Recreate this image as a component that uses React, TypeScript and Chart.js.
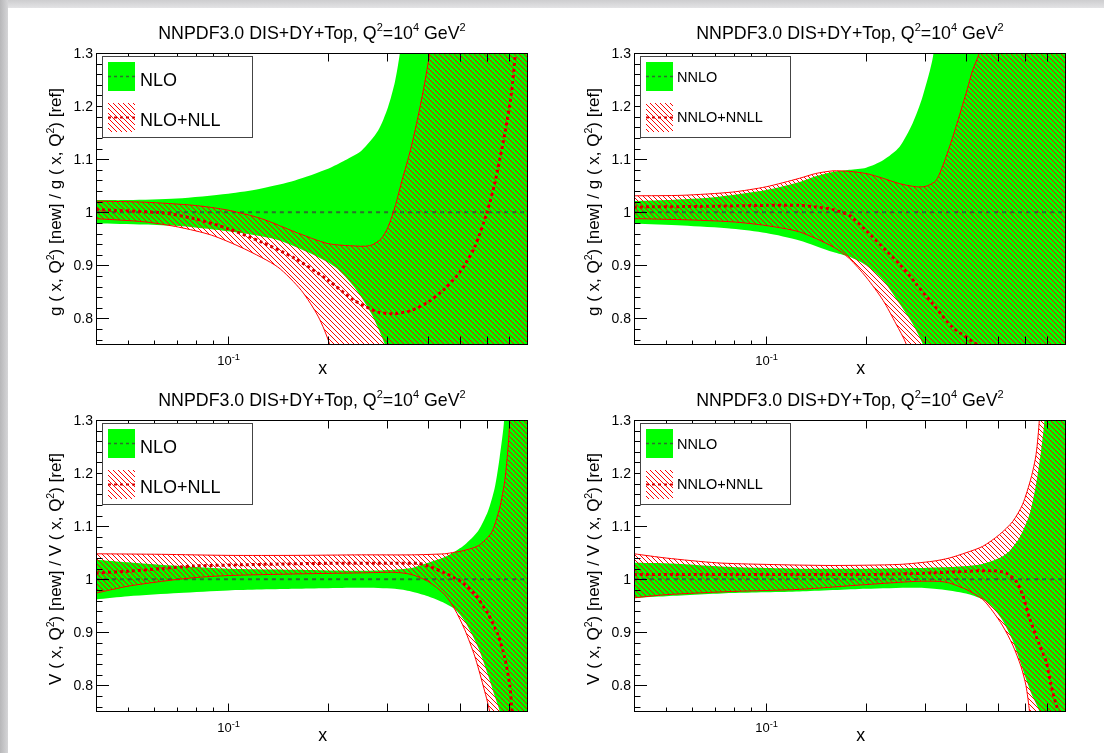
import React, { useEffect, useRef } from 'react';
import { Chart, registerables } from 'chart.js';

Chart.register(...registerables);

type Pt = [number, number];
type Part = { t: string; sup?: boolean };

// ---------------- axes ----------------
const X_MIN = 0.04;
const X_MAX = 0.8;
const Y_MIN = 0.75;
const Y_MAX = 1.3;
const Y_MAJOR = [0.8, 0.9, 1.0, 1.1, 1.2, 1.3];
const Y_LABELS = ['0.8', '0.9', '1', '1.1', '1.2', '1.3'];
const X_TICKS = [0.05, 0.06, 0.07, 0.08, 0.09, 0.1, 0.2, 0.3, 0.4, 0.5, 0.6, 0.7];
const X_LABEL_VALUE = 0.1;
const REF_LINE: Pt[] = [[0.04, 1.0], [0.8, 1.0]];

const TITLE: Part[] = [
  { t: 'NNPDF3.0 DIS+DY+Top, Q' }, { t: '2', sup: true }, { t: '=10' }, { t: '4', sup: true },
  { t: ' GeV' }, { t: '2', sup: true },
];
const G_TITLE: Part[] = [
  { t: 'g ( x, Q' }, { t: '2', sup: true }, { t: ') [new] / g ( x, Q' }, { t: '2', sup: true }, { t: ') [ref]' },
];
const V_TITLE: Part[] = [
  { t: 'V ( x, Q' }, { t: '2', sup: true }, { t: ') [new] / V ( x, Q' }, { t: '2', sup: true }, { t: ') [ref]' },
];

// ---------------- panel 1 : g, NLO vs NLO+NLL ----------------
const gNloUpper: Pt[] = [[0.04, 1.023], [0.05, 1.023], [0.07, 1.026], [0.1, 1.035], [0.126, 1.045], [0.159, 1.06], [0.2, 1.082], [0.225, 1.098], [0.252, 1.116], [0.283, 1.154], [0.303, 1.198], [0.318, 1.246], [0.329, 1.3], [0.345, 1.42], [0.9, 2.5]];
const gNloLower: Pt[] = [[0.04, 0.979], [0.056, 0.977], [0.071, 0.974], [0.089, 0.968], [0.112, 0.96], [0.141, 0.948], [0.178, 0.922], [0.21, 0.897], [0.24, 0.859], [0.27, 0.809], [0.296, 0.752], [0.31, 0.7], [0.9, 0.3]];
const gNllUpper: Pt[] = [[0.04, 1.021], [0.056, 1.019], [0.079, 1.013], [0.1, 1.004], [0.126, 0.988], [0.159, 0.963], [0.2, 0.941], [0.252, 0.936], [0.27, 0.938], [0.289, 0.95], [0.303, 0.972], [0.318, 1.01], [0.332, 1.054], [0.356, 1.123], [0.382, 1.211], [0.405, 1.302], [0.42, 1.4], [0.9, 2.5]];
const gNllLower: Pt[] = [[0.04, 0.988], [0.056, 0.982], [0.071, 0.972], [0.089, 0.957], [0.112, 0.931], [0.141, 0.897], [0.166, 0.853], [0.187, 0.803], [0.202, 0.752], [0.21, 0.7], [0.9, 0.3]];
const gNllCentral: Pt[] = [[0.04, 1.005], [0.063, 0.999], [0.079, 0.988], [0.1, 0.969], [0.126, 0.944], [0.159, 0.913], [0.2, 0.872], [0.24, 0.834], [0.283, 0.812], [0.318, 0.809], [0.356, 0.815], [0.4, 0.831], [0.449, 0.856], [0.504, 0.891], [0.553, 0.935], [0.6, 0.997], [0.635, 1.054], [0.681, 1.148], [0.713, 1.224], [0.733, 1.3], [0.75, 1.37]];

// ---------------- panel 2 : g, NNLO vs NNLO+NNLL ----------------
const gNnloUpper: Pt[] = [[0.04, 1.021], [0.05, 1.023], [0.071, 1.029], [0.1, 1.042], [0.126, 1.057], [0.141, 1.068], [0.159, 1.076], [0.178, 1.08], [0.2, 1.084], [0.225, 1.098], [0.252, 1.123], [0.276, 1.167], [0.296, 1.218], [0.318, 1.293], [0.335, 1.42], [0.9, 2.5]];
const gNnloLower: Pt[] = [[0.04, 0.979], [0.056, 0.975], [0.079, 0.969], [0.1, 0.961], [0.126, 0.947], [0.159, 0.925], [0.178, 0.916], [0.2, 0.9], [0.225, 0.872], [0.252, 0.828], [0.276, 0.79], [0.296, 0.752], [0.31, 0.7], [0.9, 0.3]];
const gNnllUpper: Pt[] = [[0.04, 1.031], [0.056, 1.032], [0.079, 1.038], [0.1, 1.048], [0.126, 1.064], [0.141, 1.073], [0.159, 1.078], [0.178, 1.077], [0.2, 1.073], [0.225, 1.064], [0.252, 1.054], [0.283, 1.048], [0.303, 1.049], [0.325, 1.06], [0.348, 1.104], [0.373, 1.161], [0.4, 1.224], [0.419, 1.268], [0.439, 1.302], [0.46, 1.4], [0.9, 2.5]];
const gNnllLower: Pt[] = [[0.04, 0.988], [0.056, 0.986], [0.079, 0.982], [0.1, 0.975], [0.126, 0.963], [0.159, 0.935], [0.178, 0.913], [0.2, 0.878], [0.225, 0.834], [0.246, 0.79], [0.264, 0.752], [0.275, 0.7], [0.9, 0.3]];
const gNnllCentral: Pt[] = [[0.04, 1.01], [0.063, 1.011], [0.1, 1.013], [0.126, 1.013], [0.141, 1.01], [0.159, 1.005], [0.178, 0.994], [0.2, 0.966], [0.23, 0.928], [0.252, 0.903], [0.283, 0.865], [0.318, 0.827], [0.365, 0.783], [0.429, 0.752], [0.45, 0.74]];

// ---------------- panel 3 : V, NLO vs NLO+NLL ----------------
const vNloUpper: Pt[] = [[0.04, 1.037], [0.05, 1.032], [0.071, 1.025], [0.1, 1.02], [0.159, 1.018], [0.252, 1.016], [0.318, 1.018], [0.356, 1.021], [0.4, 1.031], [0.449, 1.042], [0.481, 1.052], [0.516, 1.065], [0.566, 1.091], [0.606, 1.128], [0.635, 1.172], [0.657, 1.229], [0.678, 1.301], [0.69, 1.45], [0.9, 3.0]];
const vNloLower: Pt[] = [[0.04, 0.962], [0.05, 0.968], [0.071, 0.974], [0.1, 0.979], [0.159, 0.982], [0.252, 0.984], [0.318, 0.982], [0.356, 0.977], [0.4, 0.968], [0.449, 0.955], [0.481, 0.944], [0.516, 0.921], [0.566, 0.872], [0.606, 0.82], [0.635, 0.78], [0.657, 0.751], [0.67, 0.7], [0.9, 0.3]];
const vNllUpper: Pt[] = [[0.04, 1.048], [0.063, 1.047], [0.1, 1.045], [0.159, 1.045], [0.252, 1.046], [0.356, 1.046], [0.449, 1.048], [0.481, 1.051], [0.504, 1.053], [0.566, 1.063], [0.621, 1.088], [0.657, 1.134], [0.681, 1.186], [0.697, 1.25], [0.705, 1.301], [0.715, 1.45], [0.9, 3.0]];
const vNllLower: Pt[] = [[0.04, 0.974], [0.05, 0.987], [0.063, 0.996], [0.079, 1.003], [0.1, 1.007], [0.159, 1.01], [0.252, 1.012], [0.318, 1.013], [0.356, 1.009], [0.4, 0.996], [0.449, 0.971], [0.481, 0.944], [0.516, 0.905], [0.553, 0.855], [0.586, 0.8], [0.613, 0.751], [0.625, 0.7], [0.9, 0.3]];
const vNllCentral: Pt[] = [[0.04, 1.012], [0.05, 1.015], [0.063, 1.02], [0.079, 1.025], [0.126, 1.028], [0.2, 1.03], [0.318, 1.03], [0.373, 1.03], [0.4, 1.025], [0.449, 1.012], [0.504, 0.995], [0.553, 0.972], [0.606, 0.935], [0.65, 0.895], [0.681, 0.852], [0.705, 0.8], [0.716, 0.752], [0.72, 0.72]];

// ---------------- panel 4 : V, NNLO vs NNLO+NNLL ----------------
const vNnloUpper: Pt[] = [[0.04, 1.031], [0.05, 1.03], [0.079, 1.023], [0.126, 1.02], [0.2, 1.02], [0.283, 1.021], [0.356, 1.023], [0.4, 1.025], [0.449, 1.029], [0.504, 1.04], [0.54, 1.053], [0.579, 1.078], [0.621, 1.122], [0.65, 1.179], [0.673, 1.242], [0.689, 1.301], [0.7, 1.45], [0.9, 3.0]];
const vNnloLower: Pt[] = [[0.04, 0.965], [0.05, 0.968], [0.079, 0.974], [0.126, 0.977], [0.2, 0.982], [0.283, 0.984], [0.332, 0.981], [0.4, 0.973], [0.449, 0.962], [0.481, 0.948], [0.516, 0.922], [0.553, 0.884], [0.592, 0.831], [0.628, 0.786], [0.665, 0.751], [0.68, 0.7], [0.9, 0.3]];
const vNnllUpper: Pt[] = [[0.04, 1.048], [0.05, 1.04], [0.071, 1.031], [0.1, 1.028], [0.159, 1.026], [0.252, 1.028], [0.318, 1.034], [0.356, 1.04], [0.4, 1.05], [0.449, 1.062], [0.504, 1.084], [0.553, 1.109], [0.592, 1.141], [0.628, 1.191], [0.65, 1.235], [0.665, 1.301], [0.68, 1.45], [0.9, 3.0]];
const vNnllLower: Pt[] = [[0.04, 0.965], [0.05, 0.971], [0.079, 0.977], [0.126, 0.981], [0.2, 0.99], [0.283, 0.996], [0.332, 0.996], [0.356, 0.993], [0.4, 0.981], [0.449, 0.962], [0.481, 0.94], [0.516, 0.912], [0.553, 0.876], [0.586, 0.835], [0.606, 0.8], [0.621, 0.751], [0.63, 0.7], [0.9, 0.3]];
const vNnllCentral: Pt[] = [[0.04, 1.009], [0.2, 1.009], [0.252, 1.01], [0.318, 1.012], [0.4, 1.015], [0.481, 1.016], [0.528, 1.012], [0.566, 0.996], [0.592, 0.971], [0.621, 0.927], [0.665, 0.877], [0.697, 0.845], [0.721, 0.801], [0.747, 0.764], [0.76, 0.751], [0.77, 0.72]];

// ---------------- layout & style ----------------
const FONT = '"Liberation Sans", Arial, Helvetica, sans-serif';
const GREEN = '#00ff00';
const GREEN_DASH = '#2e6e2e';
const RED = '#ff0000';
const RED_DOT = '#d40000';

interface PanelDef {
  cx: number; cy: number; cw: number; ch: number;
  l: number; t: number; r: number; b: number;
  band: Pt[][]; // [greenUp, greenDn, redUp, redDn, redCt]
  yTitle: Part[];
  labels: [string, string];
  legendSize: number;
  legendTextX: number;
  legendBase: [number, number];
}

const PANELS: PanelDef[] = [
  { cx: 0, cy: 0, cw: 552, ch: 377, l: 96, t: 53, r: 528, b: 345,
    band: [gNloUpper, gNloLower, gNllUpper, gNllLower, gNllCentral], yTitle: G_TITLE,
    labels: ['NLO', 'NLO+NLL'], legendSize: 18, legendTextX: 44, legendBase: [33, 73] },
  { cx: 552, cy: 0, cw: 552, ch: 377, l: 634, t: 53, r: 1066, b: 345,
    band: [gNnloUpper, gNnloLower, gNnllUpper, gNnllLower, gNnllCentral], yTitle: G_TITLE,
    labels: ['NNLO', 'NNLO+NNLL'], legendSize: 14.5, legendTextX: 43, legendBase: [29, 69] },
  { cx: 0, cy: 377, cw: 552, ch: 376, l: 96, t: 420, r: 528, b: 712,
    band: [vNloUpper, vNloLower, vNllUpper, vNllLower, vNllCentral], yTitle: V_TITLE,
    labels: ['NLO', 'NLO+NLL'], legendSize: 18, legendTextX: 44, legendBase: [33, 73] },
  { cx: 552, cy: 377, cw: 552, ch: 376, l: 634, t: 420, r: 1066, b: 712,
    band: [vNnloUpper, vNnloLower, vNnllUpper, vNnllLower, vNnllCentral], yTitle: V_TITLE,
    labels: ['NNLO', 'NNLO+NNLL'], legendSize: 14.5, legendTextX: 43, legendBase: [29, 69] },
];

const toXY = (pts: Pt[]) => pts.map(([x, y]) => ({ x, y }));
const polygon = (up: Pt[], dn: Pt[]) => toXY([...up, ...[...dn].reverse()]);

function makeHatch(): CanvasPattern {
  const s = 5;
  const c = document.createElement('canvas');
  c.width = s; c.height = s;
  const g = c.getContext('2d')!;
  g.strokeStyle = RED;
  g.lineWidth = 1;
  g.beginPath();
  g.moveTo(-1, -1); g.lineTo(s + 1, s + 1);
  g.moveTo(-1, s - 1); g.lineTo(1, s + 1);
  g.moveTo(s - 1, -1); g.lineTo(s + 1, 1);
  g.stroke();
  return g.createPattern(c, 'repeat')!;
}

function drawRich(ctx: CanvasRenderingContext2D, parts: Part[], x: number, y: number, size: number,
  align: 'left' | 'center' | 'right', supScale = 0.62) {
  const supSize = size * supScale;
  const widths = parts.map((p) => {
    ctx.font = `${p.sup ? supSize : size}px ${FONT}`;
    return ctx.measureText(p.t).width;
  });
  const total = widths.reduce((s, w) => s + w, 0);
  let cx = align === 'center' ? x - total / 2 : align === 'right' ? x - total : x;
  ctx.textAlign = 'left';
  ctx.textBaseline = 'alphabetic';
  parts.forEach((p, i) => {
    ctx.font = `${p.sup ? supSize : size}px ${FONT}`;
    ctx.fillText(p.t, cx, p.sup ? y - size * 0.42 : y);
    cx += widths[i];
  });
}

function framePlugin(p: PanelDef, hatch: CanvasPattern) {
  return {
    id: 'rootFrame',
    afterDraw(chart: any) {
      const ctx: CanvasRenderingContext2D = chart.ctx;
      const a = chart.chartArea;
      const xs = chart.scales.x;
      const ys = chart.scales.y;
      ctx.save();
      ctx.setLineDash([]);
      ctx.strokeStyle = '#000';
      ctx.fillStyle = '#000';
      ctx.lineWidth = 1;
      // frame
      ctx.strokeRect(a.left + 0.5, a.top + 0.5, a.right - a.left - 1, a.bottom - a.top - 1);
      // y ticks
      ctx.beginPath();
      for (let k = 0; k < 27; k++) {
        const v = Y_MIN + 0.01 + 0.02 * k;
        const major = Math.abs(v * 10 - Math.round(v * 10)) < 1e-6;
        const py = Math.round(ys.getPixelForValue(v)) + 0.5;
        ctx.moveTo(a.left, py);
        ctx.lineTo(a.left + (major ? 13 : 6.5), py);
      }
      // x ticks (bottom and top)
      X_TICKS.forEach((v) => {
        const len = v >= 0.1 - 1e-9 ? 8.5 : 4.5;
        const px = Math.round(xs.getPixelForValue(v)) + 0.5;
        ctx.moveTo(px, a.bottom);
        ctx.lineTo(px, a.bottom - len);
        ctx.moveTo(px, a.top);
        ctx.lineTo(px, a.top + len);
      });
      ctx.stroke();
      // y labels
      ctx.font = `14px ${FONT}`;
      ctx.textAlign = 'right';
      ctx.textBaseline = 'middle';
      Y_MAJOR.forEach((v, i) => {
        ctx.fillText(Y_LABELS[i], a.left - 3, ys.getPixelForValue(v) + 1);
      });
      // x label
      drawRich(ctx, [{ t: '10' }, { t: '-1', sup: true }], xs.getPixelForValue(X_LABEL_VALUE) + 0.5,
        a.bottom + 20, 13, 'center', 0.72);
      // x title
      ctx.font = `17.8px ${FONT}`;
      ctx.textAlign = 'center';
      ctx.textBaseline = 'alphabetic';
      ctx.fillText('x', a.left + 0.525 * (a.right - a.left), a.bottom + 29);
      // title
      drawRich(ctx, TITLE, (a.left + a.right) / 2, a.top - 14.5, 17.8, 'center');
      // y title
      ctx.save();
      ctx.translate(a.left - 35, (a.top + a.bottom) / 2 + 3);
      ctx.rotate(-Math.PI / 2);
      drawRich(ctx, p.yTitle, 0, 0, 17, 'center');
      ctx.restore();
      // legend
      const L = a.left;
      const T = a.top;
      ctx.fillStyle = '#fff';
      ctx.fillRect(L + 6.5, T + 3.5, 150, 81);
      ctx.strokeStyle = '#444';
      ctx.strokeRect(L + 6.5, T + 3.5, 150, 81);
      ctx.fillStyle = GREEN;
      ctx.fillRect(L + 12, T + 9, 27, 29);
      ctx.fillStyle = hatch;
      ctx.fillRect(L + 12, T + 50, 27, 29);
      ctx.setLineDash([3, 3]);
      ctx.strokeStyle = GREEN_DASH;
      ctx.lineWidth = 1.5;
      ctx.beginPath();
      ctx.moveTo(L + 12, T + 23.5);
      ctx.lineTo(L + 39, T + 23.5);
      ctx.stroke();
      ctx.strokeStyle = RED_DOT;
      ctx.lineWidth = 2;
      ctx.beginPath();
      ctx.moveTo(L + 12, T + 64.5);
      ctx.lineTo(L + 39, T + 64.5);
      ctx.stroke();
      ctx.setLineDash([]);
      ctx.fillStyle = '#000';
      ctx.font = `${p.legendSize}px ${FONT}`;
      ctx.textAlign = 'left';
      ctx.textBaseline = 'alphabetic';
      ctx.fillText(p.labels[0], L + p.legendTextX, T + p.legendBase[0]);
      ctx.fillText(p.labels[1], L + p.legendTextX, T + p.legendBase[1]);
      ctx.restore();
    },
  };
}

function buildConfig(p: PanelDef, hatch: CanvasPattern): any {
  const [gUp, gDn, rUp, rDn, rCt] = p.band;
  const base = { pointRadius: 0, pointHoverRadius: 0, tension: 0.25, capBezierPoints: false, clip: 0 };
  return {
    type: 'line',
    data: {
      datasets: [
        { ...base, data: polygon(gUp, gDn), fill: 'shape', backgroundColor: GREEN,
          borderColor: 'rgba(0,0,0,0)', borderWidth: 0, order: 6 },
        { ...base, data: polygon(rUp, rDn), fill: 'shape', backgroundColor: hatch,
          borderColor: 'rgba(0,0,0,0)', borderWidth: 0, order: 5 },
        { ...base, data: toXY(REF_LINE), fill: false, borderColor: GREEN_DASH, borderWidth: 2,
          borderDash: [4, 4], order: 4 },
        { ...base, data: toXY(rUp), fill: false, borderColor: RED, borderWidth: 1, order: 3 },
        { ...base, data: toXY(rDn), fill: false, borderColor: RED, borderWidth: 1, order: 2 },
        { ...base, data: toXY(rCt), fill: false, borderColor: RED_DOT, borderWidth: 3,
          borderDash: [3, 3], borderCapStyle: 'butt', order: 1 },
      ],
    },
    options: {
      responsive: false,
      animation: false,
      events: [],
      layout: {
        padding: {
          left: p.l - p.cx,
          top: p.t - p.cy,
          right: p.cx + p.cw - p.r,
          bottom: p.cy + p.ch - p.b,
        },
      },
      plugins: {
        legend: { display: false },
        tooltip: { enabled: false },
        title: { display: false },
      },
      scales: {
        x: { type: 'logarithmic', min: X_MIN, max: X_MAX, display: false },
        y: { type: 'linear', min: Y_MIN, max: Y_MAX, display: false },
      },
    },
    plugins: [framePlugin(p, hatch)],
  };
}

export default function App() {
  const r0 = useRef<HTMLCanvasElement>(null);
  const r1 = useRef<HTMLCanvasElement>(null);
  const r2 = useRef<HTMLCanvasElement>(null);
  const r3 = useRef<HTMLCanvasElement>(null);
  const refs = [r0, r1, r2, r3];

  useEffect(() => {
    const hatch = makeHatch();
    const charts = PANELS.map((p, i) => new Chart(refs[i].current as HTMLCanvasElement, buildConfig(p, hatch)));
    return () => charts.forEach((c) => c.destroy());
  }, []);

  return (
    <div style={{ position: 'absolute', left: 0, top: 0, width: 1104, height: 753, background: '#ffffff', overflow: 'hidden' }}>
      <div style={{ position: 'absolute', left: 0, top: 0, width: 1104, height: 8, background: 'linear-gradient(#cdcdcf, #e3e3e5)' }} />
      <div style={{ position: 'absolute', left: 0, top: 0, width: 8, height: 753, background: 'linear-gradient(to right, #b7b7b9, #d5d5d7)' }} />
      {PANELS.map((p, i) => (
        <canvas key={i} ref={refs[i]} width={p.cw} height={p.ch}
          style={{ position: 'absolute', left: p.cx, top: p.cy, width: p.cw, height: p.ch }} />
      ))}
    </div>
  );
}
